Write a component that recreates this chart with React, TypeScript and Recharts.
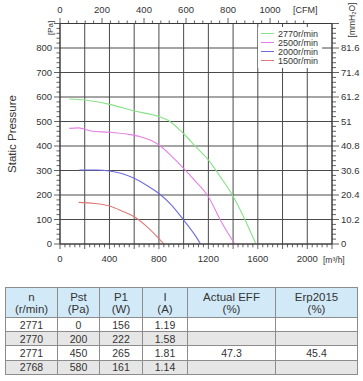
import React from "react";
import { LineChart, Line, XAxis, YAxis, CartesianGrid, Legend } from "recharts";

// fan curves: q = airflow [m³/h], p = static pressure [Pa]
const curve2770 = [
  { q: 75, p: 592 }, { q: 200, p: 588 }, { q: 400, p: 570 }, { q: 600, p: 543 },
  { q: 800, p: 520 }, { q: 870, p: 506 }, { q: 1000, p: 450 }, { q: 1100, p: 396 },
  { q: 1200, p: 343 }, { q: 1300, p: 272 }, { q: 1400, p: 195 }, { q: 1500, p: 95 },
  { q: 1585, p: 0 },
];
const curve2500 = [
  { q: 75, p: 472 }, { q: 150, p: 474 }, { q: 250, p: 461 }, { q: 400, p: 456 },
  { q: 550, p: 448 }, { q: 650, p: 438 }, { q: 730, p: 424 }, { q: 800, p: 404 },
  { q: 900, p: 360 }, { q: 1000, p: 309 }, { q: 1100, p: 254 }, { q: 1200, p: 193 },
  { q: 1300, p: 95 }, { q: 1414, p: 0 },
];
const curve2000 = [
  { q: 156, p: 302 }, { q: 300, p: 302 }, { q: 400, p: 298 }, { q: 500, p: 288 },
  { q: 600, p: 268 }, { q: 700, p: 240 }, { q: 800, p: 206 }, { q: 900, p: 160 },
  { q: 1000, p: 98 }, { q: 1100, p: 30 }, { q: 1137, p: 0 },
];
const curve1500 = [
  { q: 150, p: 170 }, { q: 250, p: 167 }, { q: 400, p: 155 }, { q: 500, p: 135 },
  { q: 600, p: 111 }, { q: 700, p: 72 }, { q: 800, p: 22 }, { q: 840, p: 0 },
];

const speedNames = ["2770r/min", "2500r/min", "2000r/min", "1500r/min"];
const speedColors = ["#86e286", "#e580e5", "#6c6cde", "#e07878"];

const paLabels = [0, 100, 200, 300, 400, 500, 600, 700, 800];
const mmLabels = ["0", "10.2", "20.4", "30.6", "40.8", "51", "61.2", "71.4", "81.6"];
const m3hLabels = [0, 400, 800, 1200, 1600, 2000];
const cfmLabels = [0, 200, 400, 600, 800, 1000];

const tableHead = [["n", "(r/min)"], ["Pst", "(Pa)"], ["P1", "(W)"], ["I", "(A)"], ["Actual EFF", "(%)"], ["Erp2015", "(%)"]];
const rpm = ["2771", "2770", "2771", "2768"];
const pst = ["0", "200", "450", "580"];
const p1 = ["156", "222", "265", "161"];
const amps = ["1.19", "1.58", "1.81", "1.14"];
const actualEff = ["", "", "47.3", ""];
const erp2015 = ["", "", "45.4", ""];

const FONT = "'Liberation Sans', Arial, sans-serif";
const AX = "#3a3a3a";
const TXT = "#333";
const CFM_MAX = 2200 / 1.699;

const steps = (to: number, step: number) =>
  Array.from({ length: Math.round(to / step) + 1 }, (_, i) => Math.round(i * step * 1000) / 1000);

const m3hTicks = steps(2200, 40);
const paTicks = steps(900, 20);
const cfmTicks = steps(1160, 40);
// invisible anchor so the CFM axis has something attached to it
const cfmAnchor = [{ q: 0, p: 0 }, { q: CFM_MAX, p: 0 }];

const LeftTick = ({ x, y, payload }: any) => {
  const v = payload.value;
  const major = v % 100 === 0;
  return (
    <g>
      <line x1={x - (major ? 6 : 3.5)} x2={x} y1={y} y2={y} stroke={AX} strokeWidth={0.8} />
      {major && paLabels.includes(v) && (
        <text x={x - 8} y={y} dy={3.4} textAnchor="end" fontSize={9.5} fill={TXT} fontFamily={FONT}>{v}</text>
      )}
    </g>
  );
};

const RightTick = ({ x, y, payload }: any) => {
  const v = payload.value;
  const major = v % 100 === 0;
  const label = major ? mmLabels[v / 100] : undefined;
  return (
    <g>
      <line x1={x} x2={x + (major ? 7 : 4)} y1={y} y2={y} stroke={AX} strokeWidth={0.8} />
      {label !== undefined && (
        <text x={x + 9} y={y} dy={3.4} textAnchor="start" fontSize={9.5} fill={TXT} fontFamily={FONT}>{label}</text>
      )}
    </g>
  );
};

const BottomTick = ({ x, y, payload }: any) => {
  const v = payload.value;
  const major = v % 200 === 0;
  return (
    <g>
      <line x1={x} x2={x} y1={y} y2={y + (major ? 5 : 3.3)} stroke={AX} strokeWidth={0.8} />
      {m3hLabels.includes(v) && (
        <text x={x} y={y + 18} textAnchor="middle" fontSize={9.5} fill={TXT} fontFamily={FONT}>{v}</text>
      )}
    </g>
  );
};

const TopTick = ({ x, y, payload }: any) => {
  const v = payload.value;
  const major = v % 200 === 0;
  return (
    <g>
      <line x1={x} x2={x} y1={y} y2={y - (major ? 5.5 : 3)} stroke={AX} strokeWidth={0.8} />
      {cfmLabels.includes(v) && (
        <text x={x} y={y - 10.5} textAnchor="middle" fontSize={9.5} fill={TXT} fontFamily={FONT}>{v}</text>
      )}
    </g>
  );
};

const LegendBox = ({ payload }: any) => {
  const items = (payload || [])
    .filter((e: any) => speedNames.includes(e.value))
    .sort((a: any, b: any) => speedNames.indexOf(a.value) - speedNames.indexOf(b.value));
  return (
    <div style={{ background: "#fff", padding: "2px 2px 3px 3px", fontFamily: FONT }}>
      {items.map((e: any) => (
        <div key={e.value} style={{ display: "flex", alignItems: "center", height: 9, fontSize: 9, color: TXT }}>
          <span style={{ display: "inline-block", width: 13, height: 1.3, background: e.color, marginRight: 4 }} />
          {e.value}
        </div>
      ))}
    </div>
  );
};

const cell: React.CSSProperties = {
  border: "1px solid #8c8c8c",
  textAlign: "center",
  padding: 0,
  color: TXT,
};

export default function App() {
  const widths = [52, 42, 43, 45, 88, 82];
  return (
    <div style={{ position: "absolute", left: 0, top: 0, width: 363, height: 381, background: "#fff", fontFamily: FONT }}>
      <LineChart width={363} height={280} margin={{ top: 3.5, right: 5, bottom: 6, left: 10 }}>
        <CartesianGrid
          stroke="#4a4a4a"
          strokeWidth={1}
          horizontalValues={paLabels}
          verticalValues={steps(2200, 200)}
        />
        <XAxis
          dataKey="q"
          type="number"
          domain={[0, 2200]}
          ticks={m3hTicks}
          interval={0}
          height={30}
          tickSize={0}
          tickMargin={0}
          tick={<BottomTick />}
          axisLine={{ stroke: AX }}
          allowDataOverflow
        />
        <XAxis
          xAxisId="cfm"
          dataKey="q"
          orientation="top"
          type="number"
          domain={[0, CFM_MAX]}
          ticks={cfmTicks}
          interval={0}
          height={20}
          tickSize={0}
          tickMargin={0}
          tick={<TopTick />}
          axisLine={{ stroke: AX }}
          allowDataOverflow
        />
        <YAxis
          type="number"
          domain={[0, 900]}
          ticks={paTicks}
          interval={0}
          width={50}
          tickSize={0}
          tickMargin={0}
          tick={<LeftTick />}
          axisLine={{ stroke: AX }}
          allowDataOverflow
        />
        <YAxis
          yAxisId="mm"
          orientation="right"
          type="number"
          domain={[0, 900]}
          ticks={paTicks}
          interval={0}
          width={26}
          tickSize={0}
          tickMargin={0}
          tick={<RightTick />}
          axisLine={{ stroke: AX }}
          allowDataOverflow
        />
        <Legend
          layout="vertical"
          align="center"
          verticalAlign="middle"
          content={<LegendBox />}
          wrapperStyle={{ left: 258, top: 27, width: 64 }}
        />
        <Line xAxisId="cfm" data={cfmAnchor} dataKey="p" stroke="none" legendType="none" dot={false} activeDot={false} isAnimationActive={false} />
        <Line data={curve2770} dataKey="p" name={speedNames[0]} type="monotone" stroke={speedColors[0]} strokeWidth={1.1} dot={false} isAnimationActive={false} />
        <Line data={curve2500} dataKey="p" name={speedNames[1]} type="monotone" stroke={speedColors[1]} strokeWidth={1.1} dot={false} isAnimationActive={false} />
        <Line data={curve2000} dataKey="p" name={speedNames[2]} type="monotone" stroke={speedColors[2]} strokeWidth={1.1} dot={false} isAnimationActive={false} />
        <Line data={curve1500} dataKey="p" name={speedNames[3]} type="monotone" stroke={speedColors[3]} strokeWidth={1.1} dot={false} isAnimationActive={false} />
      </LineChart>

      <svg width={363} height={280} style={{ position: "absolute", left: 0, top: 0, pointerEvents: "none" }}>
        <text transform="translate(15.5,134) rotate(-90)" textAnchor="middle" fontSize={11.5} fill={TXT} fontFamily={FONT}>Static Pressure</text>
        <text transform="translate(52.5,28) rotate(-90)" textAnchor="middle" fontSize={8} fill={TXT} fontFamily={FONT}>[Pa]</text>
        <text transform="translate(355,20) rotate(-90)" textAnchor="middle" fontSize={8.5} fill={TXT} fontFamily={FONT}>[mmH₂O]</text>
        <text x={293} y={12.5} fontSize={9} fill={TXT} fontFamily={FONT}>[CFM]</text>
        <text x={323} y={262.5} fontSize={8.5} fill={TXT} fontFamily={FONT}>[m³/h]</text>
      </svg>

      <table style={{ position: "absolute", left: 5, top: 287, borderCollapse: "collapse", tableLayout: "fixed", width: 352 }}>
        <colgroup>
          {widths.map((w, i) => <col key={i} style={{ width: w }} />)}
        </colgroup>
        <thead>
          <tr style={{ height: 30, background: "#d2eaf7" }}>
            {tableHead.map(([a, b]) => (
              <th key={a} style={{ ...cell, fontWeight: "normal", fontSize: 11.5, lineHeight: "12px" }}>
                {a}<br />{b}
              </th>
            ))}
          </tr>
        </thead>
        <tbody>
          {rpm.map((r, i) => (
            <tr key={i} style={{ height: 14.2, background: i % 2 === 1 ? "#e6e6e6" : "#fff" }}>
              {[r, pst[i], p1[i], amps[i], actualEff[i], erp2015[i]].map((v, j) => (
                <td key={j} style={{ ...cell, fontSize: 10.5, lineHeight: "12px" }}>{v}</td>
              ))}
            </tr>
          ))}
        </tbody>
      </table>
    </div>
  );
}
